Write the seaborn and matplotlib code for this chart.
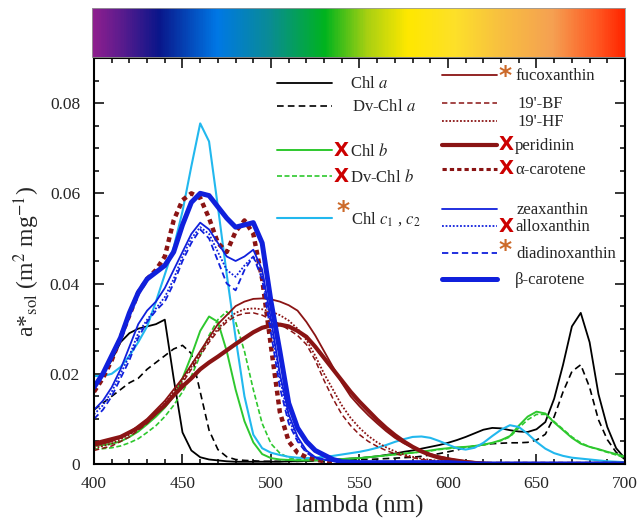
import numpy as np
import pandas as pd
import matplotlib
matplotlib.use("Agg")
import matplotlib.pyplot as plt
from matplotlib.colors import LinearSegmentedColormap
from matplotlib.lines import Line2D
import seaborn as sns

# ---------------- data ----------------
wavelength = list(range(400, 701, 5))

chl_a = [.017, .020, .023, .027, .029, .030, .0305, .031, .032, .019, .007, .003, .0015, .001, .0008, .0006,
         .0005, .0005, .0005, .0005, .0005, .0005, .0006, .0006, .0007, .0008, .0009, .001, .0011, .0012, .0013,
         .0015, .0017, .002, .0023, .0027, .003, .0034, .0038, .0042, .0047, .0053, .006, .0068, .0076, .008,
         .0079, .0075, .0072, .0071, .0077, .0093, .0145, .022, .0305, .0335, .027, .0155, .0082, .0035, .0012]
dv_chl_a = [.012, .0135, .015, .0165, .018, .019, .021, .0225, .024, .0255, .0263, .0245, .016, .0075, .0032, .0016,
            .001, .0008, .0007, .0006, .0006, .0006, .0006, .0006, .0006, .0007, .0007, .0008, .0008, .0009, .001,
            .001, .0011, .0012, .0013, .0014, .0015, .0017, .002, .0023, .0027, .0031, .0036, .004, .0043, .0045,
            .0046, .0047, .0047, .0048, .0053, .0066, .0105, .016, .0205, .022, .017, .0098, .0054, .0026, .001]
chl_b = [.004, .0042, .0045, .005, .006, .0072, .0088, .0105, .0125, .015, .019, .024, .0295, .0327, .0315, .025,
         .0165, .0095, .0048, .0022, .0013, .001, .0009, .0008, .0008, .0008, .0009, .001, .0011, .0012, .0013,
         .0015, .0017, .0019, .0021, .0023, .0025, .0027, .003, .0033, .0035, .0037, .0038, .004, .0043, .0047,
         .0053, .0062, .0085, .0105, .0116, .0112, .0092, .0075, .0058, .0045, .0038, .0033, .0027, .0022, .0016]
dv_chl_b = [.0033, .0034, .0036, .004, .0047, .0056, .007, .0085, .0105, .013, .016, .0195, .024, .0285, .032, .0338,
            .0315, .025, .0165, .009, .0045, .0024, .0014, .001, .0009, .0009, .0009, .001, .0011, .0012, .0013,
            .0015, .0017, .0019, .0021, .0023, .0025, .0027, .0029, .0032, .0034, .0036, .0037, .0039, .0042, .0046,
            .0052, .006, .008, .0098, .011, .011, .0094, .0077, .006, .0047, .0038, .0032, .0026, .002, .0014]
chl_c = [.0195, .0195, .020, .0215, .024, .027, .0305, .036, .042, .048, .056, .066, .0755, .0715, .057, .042,
         .028, .015, .0065, .0035, .0025, .002, .0016, .0014, .0013, .0014, .0016, .0018, .0021, .0024, .0027,
         .0031, .0036, .0042, .0049, .0055, .006, .0061, .0058, .0051, .0043, .0035, .0032, .0036, .0047, .0062,
         .0076, .0086, .0082, .0067, .0049, .0034, .0024, .0018, .0014, .0012, .001, .0008, .0006, .0005, .0004]
fucoxanthin = [.004, .0045, .005, .006, .007, .0085, .010, .012, .014, .0165, .019, .022, .025, .028, .031, .033,
               .035, .036, .0366, .0367, .0365, .036, .0352, .034, .0315, .0285, .025, .0215, .018, .015, .0128,
               .0108, .009, .0073, .0058, .0046, .0036, .0028, .0022, .0017, .0013, .001, .0007, .0005, .0003, .0002,
               .0001, 0, 0, 0, 0, 0, 0, 0, 0, 0, 0, 0, 0, 0, 0]
bf19 = [.003, .0035, .004, .005, .006, .0075, .009, .011, .013, .0155, .018, .021, .024, .027, .0295, .0315,
        .0328, .0334, .0335, .033, .032, .031, .0298, .0285, .0265, .023, .0185, .0145, .011, .0085, .0065,
        .005, .0039, .003, .0023, .0018, .0014, .001, .0008, .0006, .0004, .0003, .0002, .0001, 0, 0,
        0, 0, 0, 0, 0, 0, 0, 0, 0, 0, 0, 0, 0, 0, 0]
hf19 = [.0035, .004, .0045, .0055, .0065, .008, .0095, .0115, .0135, .016, .0185, .0215, .0245, .0275, .030, .032,
        .0335, .0343, .0345, .0343, .0338, .033, .0318, .030, .0275, .024, .020, .0165, .013, .0102, .008,
        .0062, .0048, .0037, .0028, .0021, .0016, .0012, .0009, .0007, .0005, .0003, .0002, .0001, 0, 0,
        0, 0, 0, 0, 0, 0, 0, 0, 0, 0, 0, 0, 0, 0, 0]
peridinin = [.0045, .005, .0055, .006, .007, .008, .0095, .0113, .013, .0152, .0172, .019, .021, .0225, .0238, .0252,
             .0266, .0279, .0292, .0302, .0307, .0309, .0305, .0295, .0282, .026, .0235, .021, .0185, .016, .0138,
             .0118, .0098, .008, .0064, .005, .0038, .0028, .002, .0014, .001, .0006, .0004, .0002, .0001, 0,
             0, 0, 0, 0, 0, 0, 0, 0, 0, 0, 0, 0, 0, 0, 0]
alpha_carotene = [.016, .019, .023, .028, .033, .038, .041, .043, .046, .054, .0585, .060, .059, .0545, .049, .047,
                  .0515, .054, .051, .041, .026, .0115, .005, .0025, .0015, .001, .0006, .0004, .0003, .0002, .0002,
                  .0001, 0, 0, 0, 0, 0, 0, 0, 0, 0, 0, 0, 0, 0, 0,
                  0, 0, 0, 0, 0, 0, 0, 0, 0, 0, 0, 0, 0, 0, 0]
zeaxanthin = [.012, .014, .017, .021, .026, .031, .034, .036, .039, .043, .047, .051, .0535, .052, .049, .046,
              .045, .046, .0475, .043, .032, .020, .011, .006, .003, .0015, .001, .0008, .0006, .0005, .0004,
              .0004, .0003, .0003, .0003, .0003, .0003, .0003, .0003, .0003, .0003, .0002, .0001, 0, 0, 0,
              0, 0, 0, 0, 0, 0, 0, 0, 0, 0, 0, 0, 0, 0, 0]
alloxanthin = [.011, .013, .016, .020, .024, .029, .032, .0345, .037, .041, .046, .050, .0525, .051, .047, .043,
               .0415, .044, .046, .042, .031, .019, .010, .0055, .0028, .0014, .0009, .0007, .0006, .0005, .0004,
               .0004, .0003, .0003, .0003, .0003, .0003, .0003, .0003, .0003, .0003, .0002, .0001, 0, 0, 0,
               0, 0, 0, 0, 0, 0, 0, 0, 0, 0, 0, 0, 0, 0, 0]
diadinoxanthin = [.010, .012, .015, .019, .023, .028, .0315, .034, .036, .040, .045, .049, .052, .050, .045, .040,
                  .0385, .043, .046, .041, .029, .017, .009, .005, .0025, .0013, .0009, .0007, .0006, .0005, .0004,
                  .0004, .0003, .0003, .0003, .0003, .0003, .0003, .0003, .0003, .0003, .0002, .0001, 0, 0, 0,
                  0, 0, 0, 0, 0, 0, 0, 0, 0, 0, 0, 0, 0, 0, 0]
beta_carotene = [.017, .020, .024, .028, .0335, .038, .041, .0425, .044, .047, .053, .058, .060, .0595, .057, .0545,
                 .0525, .053, .0535, .049, .036, .025, .0135, .008, .005, .003, .002, .001, .0005, .0004, .0003,
                 .0003, .0003, .0003, .0003, .0003, .0003, .0003, .0003, .0003, .0003, .0002, .0001, 0, 0, 0,
                 0, 0, 0, 0, 0, 0, 0, 0, 0, 0, 0, 0, 0, 0, 0]

yticks = [0, 0.02, 0.04, 0.06, 0.08]
ytick_labels = ["0", "0.02", "0.04", "0.06", "0.08"]
xticks = [400, 450, 500, 550, 600, 650, 700]

# spectrum bar stops (nm, colour)
spec_nm = [400, 415, 437, 470, 500, 531, 555, 578, 605, 630, 660, 686, 700]
spec_col = ["#8e1f8e", "#5e1c8e", "#0a168a", "#0078e6", "#0a8c94", "#00b41e", "#a8d012", "#ffe800",
            "#fde02a", "#f8c040", "#f5a052", "#ff5520", "#ff2600"]

# ---------------- styling ----------------
sns.set_theme(style="ticks")
plt.rcParams["font.family"] = ["Liberation Serif", "DejaVu Serif"]
plt.rcParams["mathtext.fontset"] = "stix"

BLACK = "#000000"
GREEN = "#2ec82e"
CYAN = "#22b8ee"
BROWN = "#8a1414"
BLUE = "#1020dc"

series = [
    # name, data, colour, lw, dashes
    ("Chl a", chl_a, BLACK, 1.3, None),
    ("Dv-Chl a", dv_chl_a, BLACK, 1.2, (4, 2.5)),
    ("Chl b", chl_b, GREEN, 1.4, None),
    ("Dv-Chl b", dv_chl_b, GREEN, 1.2, (3, 1.5)),
    ("Chl c", chl_c, CYAN, 1.5, None),
    ("fucoxanthin", fucoxanthin, BROWN, 1.3, None),
    ("19'-BF", bf19, BROWN, 1.1, (3.5, 2)),
    ("19'-HF", hf19, BROWN, 1.3, (1, 1)),
    ("peridinin", peridinin, BROWN, 3.0, None),
    ("alpha", alpha_carotene, BROWN, 3.2, (1.1, 0.9)),
    ("zeaxanthin", zeaxanthin, BLUE, 1.3, None),
    ("alloxanthin", alloxanthin, BLUE, 1.3, (1, 1)),
    ("diadinoxanthin", diadinoxanthin, BLUE, 1.3, (3.5, 2)),
    ("beta", beta_carotene, BLUE, 3.6, None),
]

W, H = 639, 520
AX_L, AX_R, AX_T, AX_B = 94, 625, 58, 464
fig = plt.figure(figsize=(W / 100, H / 100), dpi=100)
ax = fig.add_axes([AX_L / W, 1 - AX_B / H, (AX_R - AX_L) / W, (AX_B - AX_T) / H])

df = pd.DataFrame({"wavelength": wavelength})
for name, data, col, lw, dsh in series:
    df[name] = data
    kw = {}
    if dsh is not None:
        kw["dashes"] = dsh
    sns.lineplot(data=df, x="wavelength", y=name, ax=ax, color=col, linewidth=lw, **kw)

ax.set_xlim(400, 700)
ax.set_ylim(0, 0.09)
ax.set_xticks(xticks)
ax.set_xticks(list(range(400, 701, 10)), minor=True)
ax.set_yticks(yticks)
ax.set_yticklabels(ytick_labels)
ax.set_yticks([i * 0.005 for i in range(19)], minor=True)
ax.tick_params(which="both", direction="in", top=True, right=True, width=1.3, labelsize=12.5)
ax.tick_params(which="major", length=7)
ax.tick_params(which="minor", length=3.5)
ax.tick_params(axis="x", pad=9)
ax.tick_params(axis="y", pad=10)
for s in ax.spines.values():
    s.set_linewidth(1.5)
    s.set_color("black")
ax.set_xlabel("lambda (nm)", fontsize=18, labelpad=2)
ax.set_ylabel(r"a*$_{\mathrm{sol}}$ (m$^2$ mg$^{-1}$)", fontsize=17, labelpad=6)

# ---------------- manual legend ----------------
tr = ax.transAxes
def ax_x(px):
    return (px - AX_L) / (AX_R - AX_L)
def ax_y(py):
    return (AX_B - py) / (AX_B - AX_T)

def entry(x0, x1, y, col, lw, dsh, label, tx, mark=None, mx=None, my=None):
    l = Line2D([ax_x(x0), ax_x(x1)], [ax_y(y), ax_y(y)], color=col, lw=lw, transform=tr, clip_on=False)
    if dsh is not None:
        l.set_dashes(dsh)
    ax.add_line(l)
    ax.text(ax_x(tx), ax_y(y + 1), label, transform=tr, fontsize=12, va="center", ha="left")
    if mark == "X":
        ax.text(ax_x(mx), ax_y(y), "X", transform=tr, fontsize=14, color="#cc0000", fontweight="bold",
                va="center", ha="center", family="DejaVu Sans")
    elif mark == "*":
        ax.text(ax_x(mx), ax_y(my), "*", transform=tr, fontsize=18, color="#cc6a2a", fontweight="bold",
                va="center", ha="center", family="DejaVu Sans")

c1a, c1b, c1t, c1m = 277, 332, 350, 341
entry(c1a, c1b, 83, BLACK, 1.3, None, r"Chl $\mathit{a}$", c1t)
entry(c1a, c1b, 106, BLACK, 1.2, (4, 2.5), r"Dv-Chl $\mathit{a}$", c1t + 2)
entry(c1a, c1b, 150, GREEN, 1.4, None, r"Chl $\mathit{b}$", c1t, "X", c1m)
entry(c1a, c1b, 176, GREEN, 1.2, (3, 1.5), r"Dv-Chl $\mathit{b}$", c1t, "X", c1m)
entry(c1a, c1b, 218, CYAN, 1.5, None, r"Chl $\mathit{c_1}$ , $\mathit{c_2}$", c1t + 1, "*", c1m + 2, 211)

c2a, c2b, c2t, c2m = 442, 497, 515, 506
entry(c2a, c2b, 75, BROWN, 1.3, None, "fucoxanthin", c2t, "*", c2m - 1, 76)
entry(c2a, c2b, 103, BROWN, 1.1, (3.5, 2), "19'-BF", c2t + 2)
entry(c2a, c2b, 121, BROWN, 1.3, (1, 1), "19'-HF", c2t + 2)
entry(c2a, c2b, 145, BROWN, 3.0, None, "peridinin", c2t, "X", c2m)
entry(c2a, c2b, 169, BROWN, 2.2, (1.4, 1.0), "α-carotene", c2t, "X", c2m)
entry(c2a, c2b, 209, BLUE, 1.3, None, "zeaxanthin", c2t + 2)
entry(c2a, c2b, 226, BLUE, 1.3, (1, 1), "alloxanthin", c2t, "X", c2m)
entry(c2a, c2b, 253, BLUE, 1.3, (3.5, 2), "diadinoxanthin", c2t + 1, "*", c2m - 1, 250)
entry(c2a, c2b, 279, BLUE, 3.6, None, "β-carotene", c2t)

# ---------------- spectrum bar ----------------
bax = fig.add_axes([92 / W, 1 - 57 / H, (AX_R - 92) / W, 49 / H])
pos = [(n - 400) / 300 for n in spec_nm]
cmap = LinearSegmentedColormap.from_list("spec", list(zip(pos, spec_col)))
bax.imshow(np.linspace(0, 1, 600)[None, :], aspect="auto", cmap=cmap, extent=[400, 700, 0, 1])
bax.set_xticks([])
bax.set_yticks([])
for s in bax.spines.values():
    s.set_linewidth(0.6)
    s.set_color("#999999")

fig.savefig("out.png", dpi=100)
